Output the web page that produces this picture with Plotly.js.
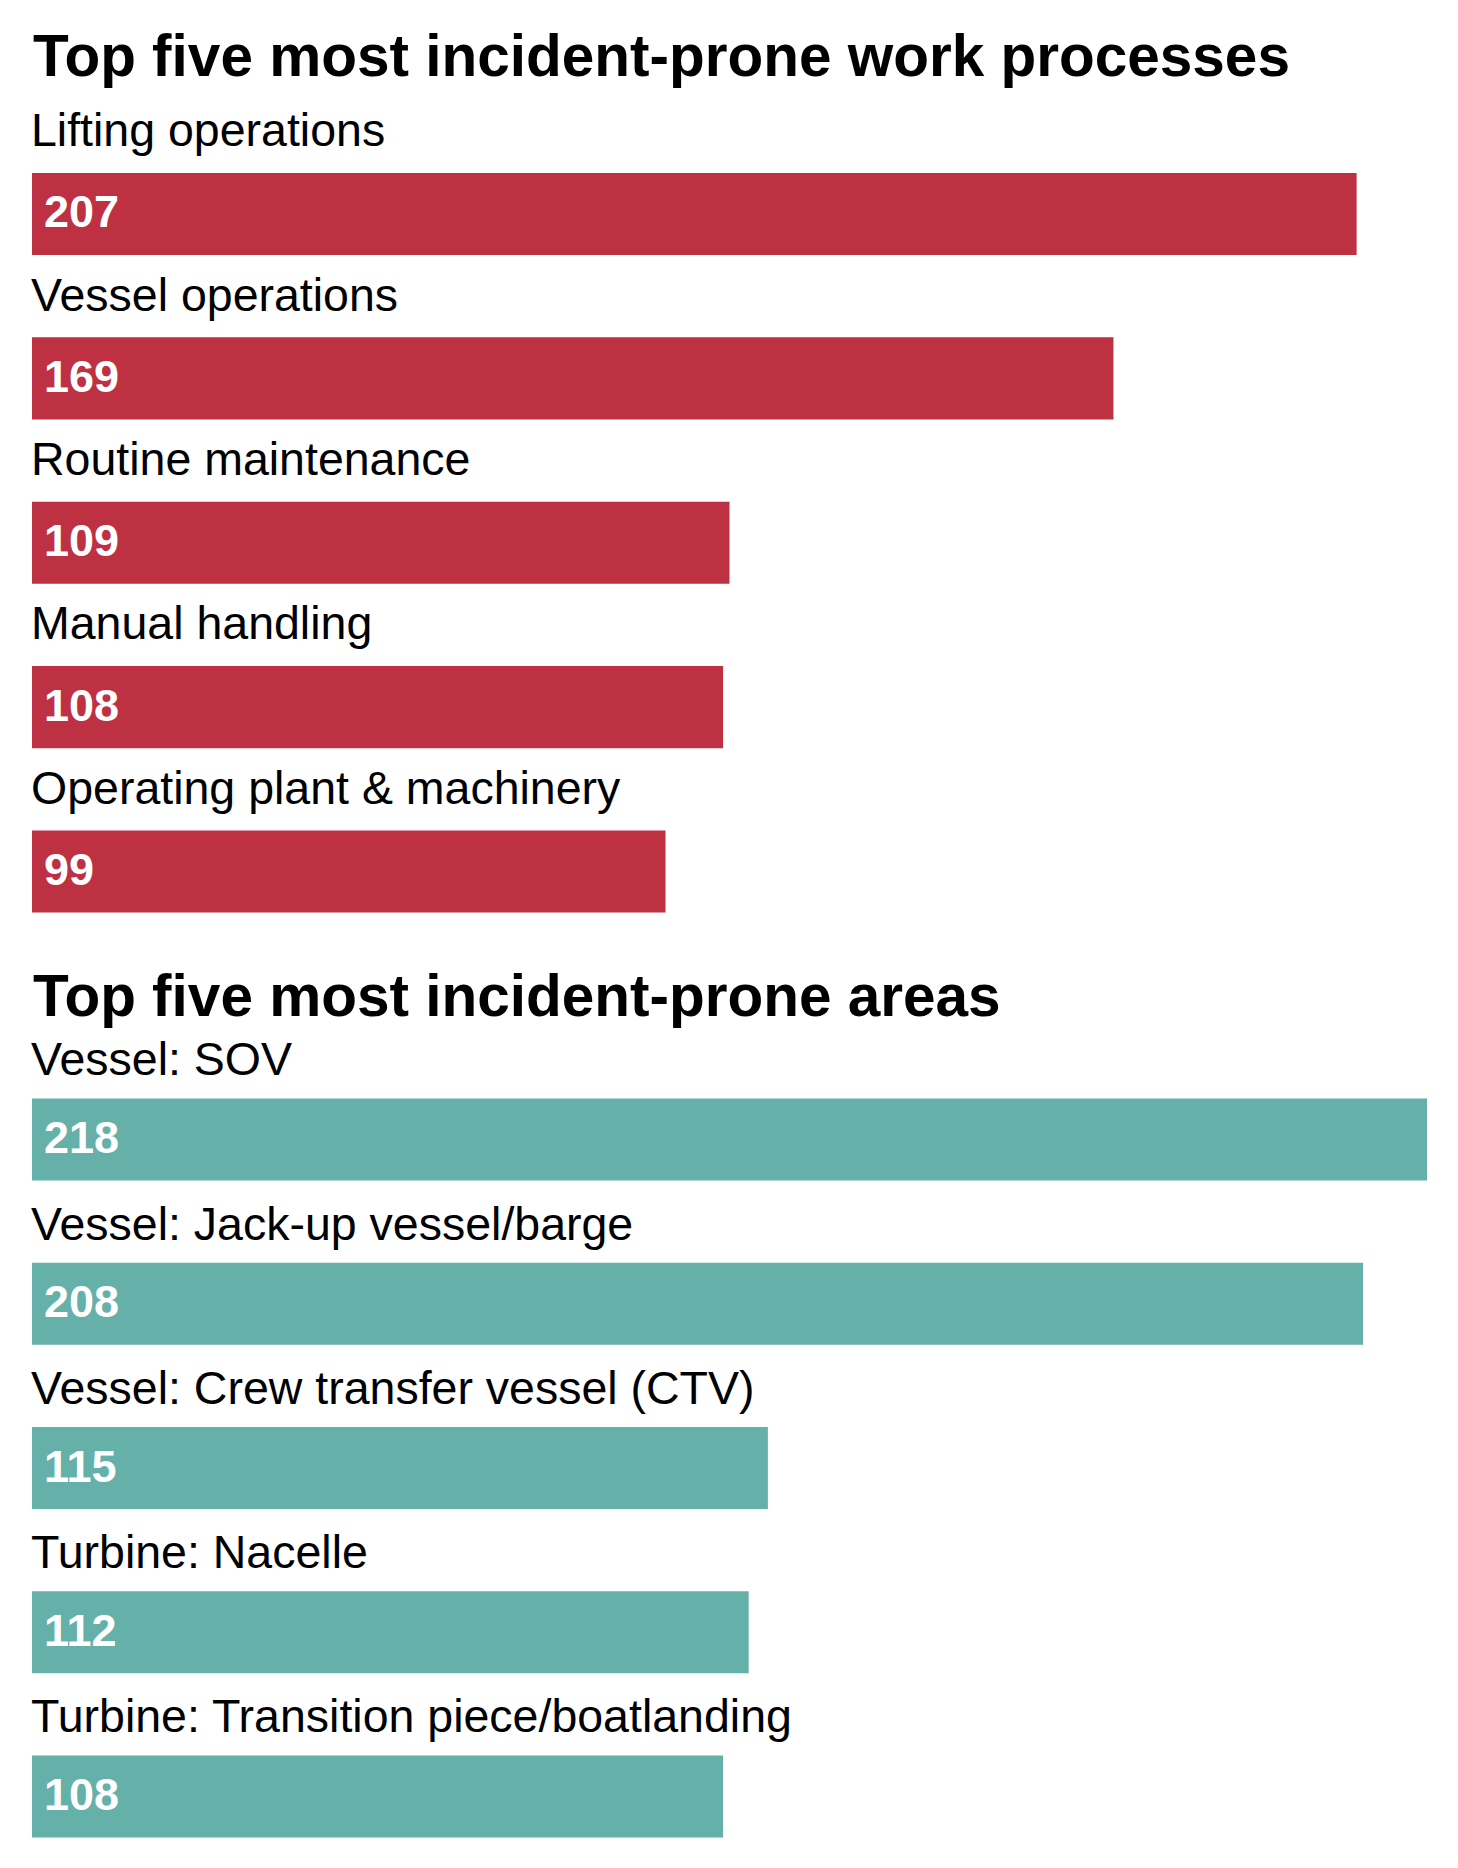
<!DOCTYPE html>
<html>
<head>
<meta charset="utf-8">
<script src="https://cdn.plot.ly/plotly-3.0.1.min.js"></script>
<style>
  html, body { margin: 0; padding: 0; background: #ffffff; }
  #chart { width: 1458px; height: 1868px; }
</style>
</head>
<body>
<div id="chart"></div>
<script>
// ---- Data ----
const titleProcesses = "Top five most incident-prone work processes";
const processCategories = [
  "Lifting operations",
  "Vessel operations",
  "Routine maintenance",
  "Manual handling",
  "Operating plant & machinery"
];
const processValues = [207, 169, 109, 108, 99];

const titleAreas = "Top five most incident-prone areas";
const areaCategories = [
  "Vessel: SOV",
  "Vessel: Jack-up vessel/barge",
  "Vessel: Crew transfer vessel (CTV)",
  "Turbine: Nacelle",
  "Turbine: Transition piece/boatlanding"
];
const areaValues = [218, 208, 115, 112, 108];

// ---- Styles ----
const FONT = "Liberation Sans, Arial, Helvetica, sans-serif";
const RED = "#BD3142";
const TEAL = "#65B0A8";
const H = 1868;
const LABEL_SIZE = 46.5;
const VALUE_SIZE = 45;
const TITLE_SIZE = 58.5;

const xMax = Math.max(...processValues, ...areaValues);

const traces = [
  {
    type: "bar", orientation: "h",
    x: processValues, y: processCategories,
    xaxis: "x", yaxis: "y",
    marker: { color: RED, line: { width: 0 } },
    width: 0.5, hoverinfo: "skip", showlegend: false
  },
  {
    type: "bar", orientation: "h",
    x: areaValues, y: areaCategories,
    xaxis: "x2", yaxis: "y2",
    marker: { color: TEAL, line: { width: 0 } },
    width: 0.5, hoverinfo: "skip", showlegend: false
  }
];

const annotations = [];
function addTitle(text, baselinePx) {
  const middle = baselinePx - 0.3465 * TITLE_SIZE;
  annotations.push({
    text: "<b>" + text + "</b>", xref: "paper", yref: "paper",
    x: 0, y: 1 - middle / H, xanchor: "left", yanchor: "middle",
    xshift: -1, showarrow: false,
    font: { family: FONT, size: TITLE_SIZE, color: "#000000" }
  });
}
addTitle(titleProcesses, 76);
addTitle(titleAreas, 1016);

function addBarTexts(cats, vals, xref, yref, baselineAboveCenter) {
  const labelShift = baselineAboveCenter + 0.3465 * LABEL_SIZE;
  cats.forEach((c, i) => {
    annotations.push({
      text: c, xref: xref, yref: yref, x: 0, y: c,
      xanchor: "left", yanchor: "middle", xshift: -3, yshift: labelShift,
      showarrow: false, font: { family: FONT, size: LABEL_SIZE, color: "#000000" }
    });
    annotations.push({
      text: "<b>" + vals[i] + "</b>", xref: xref, yref: yref, x: 0, y: c,
      xanchor: "left", yanchor: "middle", xshift: 10, yshift: 2,
      showarrow: false, font: { family: FONT, size: VALUE_SIZE, color: "#ffffff" }
    });
  });
}
addBarTexts(processCategories, processValues, "x", "y", 67.6);
addBarTexts(areaCategories, areaValues, "x2", "y2", 64.1);

const hiddenX = {
  range: [0, xMax], showgrid: false, zeroline: false, showticklabels: false,
  showline: false, ticks: "", fixedrange: true
};
const hiddenY = {
  type: "category", showgrid: false, zeroline: false, showticklabels: false,
  showline: false, ticks: "", fixedrange: true
};

const layout = {
  width: 1458, height: H,
  margin: { l: 32, r: 31, t: 0, b: 0, pad: 0 },
  paper_bgcolor: "#ffffff", plot_bgcolor: "#ffffff",
  font: { family: FONT },
  showlegend: false, hovermode: false,
  xaxis: Object.assign({}, hiddenX, { anchor: "y", domain: [0, 1] }),
  yaxis: Object.assign({}, hiddenY, { anchor: "x", range: [4.5, -0.5], domain: [1 - 953.7 / H, 1 - 131.8 / H] }),
  xaxis2: Object.assign({}, hiddenX, { anchor: "y2", domain: [0, 1] }),
  yaxis2: Object.assign({}, hiddenY, { anchor: "x2", range: [4.3, -0.5], domain: [1 - 1845.8 / H, 1 - 1057.4 / H] }),
  annotations: annotations
};

Plotly.newPlot("chart", traces, layout, { displayModeBar: false, staticPlot: true });
</script>
</body>
</html>
